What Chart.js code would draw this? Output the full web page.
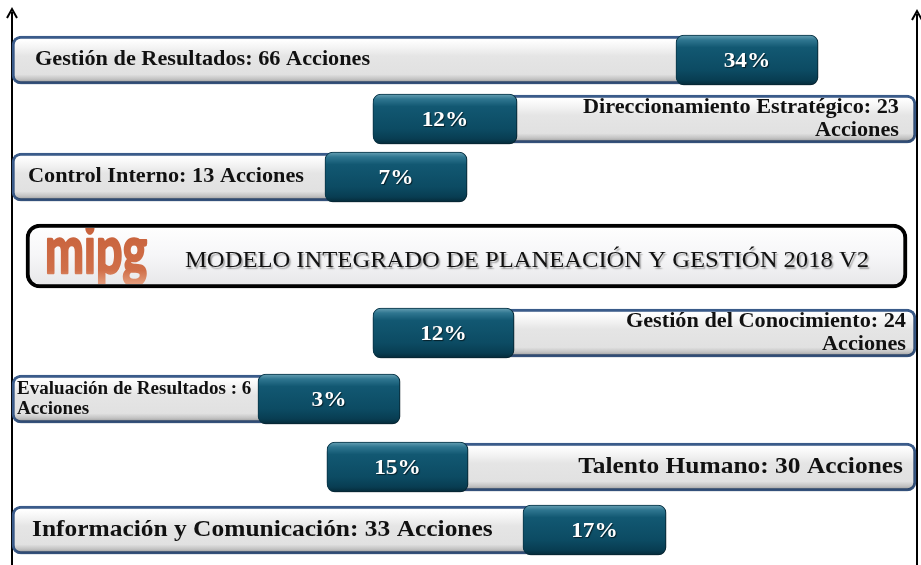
<!DOCTYPE html>
<html lang="es">
<head>
<meta charset="utf-8">
<title>MIPG 2018 V2</title>
<script src="https://cdn.jsdelivr.net/npm/chart.js@4.4.0/dist/chart.umd.min.js"></script>
<style>
  html, body { margin: 0; padding: 0; background: #fff; }
  canvas { display: block; }
</style>
</head>
<body>
<canvas id="grafico" width="921" height="565"></canvas>
<script>
// datos
const areas = [
  "Gestión de Resultados",
  "Direccionamiento Estratégico",
  "Control Interno",
  "Gestión del Conocimiento",
  "Evaluación de Resultados",
  "Talento Humano",
  "Información y Comunicación",
];
const acciones = [66, 23, 13, 24, 6, 30, 33];
const porcentajes = [34, 12, 7, 12, 3, 15, 17];
const titulo = "MODELO INTEGRADO DE PLANEACIÓN Y GESTIÓN 2018 V2";
const logo = "mipg";

// maquetación (unidades de los ejes = px del lienzo)
const filaY = [60, 119, 177, 333, 399, 467, 530];
const barraIni = [12, 373, 12, 373, 12, 327, 12];
const barraFin = [700, 916, 340, 916, 270, 916, 535];
const cajaIni = [676, 373, 325, 373, 258, 327, 523];
const cajaFin = [818, 517, 467, 514, 400, 468, 666];
const marco = { y: 256, ini: 26, fin: 907 };
const ejes = [12, 917];

// cómo se escribe cada etiqueta
const lado = ["left", "right", "left", "right", "left", "right", "left"];
const margen = [23, 17, 16, 10, 5, 13, 20];
const tamLetra = [21, 21, 21, 21, 18, 24, 24];
const dosLineas = [false, true, false, true, true, false, false];
const separador = [": ", ": ", ": ", ": ", " : ", ": ", ": "];
const estirar = 1.06; // la fuente original es más ancha

function degradado(context, paradas, alto, defecto) {
  const chart = context.chart;
  const raw = context.raw;
  if (!raw || !chart.scales.y) return defecto;
  const yc = chart.scales.y.getPixelForValue(raw.y);
  if (!Number.isFinite(yc)) return defecto;
  const g = chart.ctx.createLinearGradient(0, yc - alto / 2, 0, yc + alto / 2);
  paradas.forEach(([o, c]) => g.addColorStop(o, c));
  return g;
}

const paradasBarra = [
  [0, "#dfe3ea"], [0.08, "#ffffff"], [0.25, "#f3f3f3"], [0.42, "#e5e5e5"],
  [0.8, "#e1e1e1"], [0.9, "#c2c2c2"], [1, "#8a8a8a"],
];
const paradasCaja = [
  [0, "#6aa2b5"], [0.1, "#2f7690"], [0.25, "#125872"], [0.7, "#0c4b63"],
  [0.9, "#083d52"], [1, "#052a39"],
];
const paradasMarco = [[0, "#ffffff"], [0.5, "#f6f6f8"], [1, "#e6e6e8"]];

function textoAncho(c, txt, x, y, k) {
  c.save();
  c.translate(x, y);
  c.scale(k, 1);
  c.fillText(txt, 0, 0);
  c.restore();
}

// ejes con flecha
const ejesFlecha = {
  id: "ejesFlecha",
  beforeDatasetsDraw(chart) {
    const c = chart.ctx;
    const { x, y } = chart.scales;
    c.save();
    c.strokeStyle = "#000";
    c.lineWidth = 2;
    ejes.forEach((v, k) => {
      const px = x.getPixelForValue(v);
      const top = y.getPixelForValue(k === 0 ? 9 : 11);
      c.beginPath();
      c.moveTo(px, top + 3);
      c.lineTo(px, y.getPixelForValue(565));
      c.stroke();
      c.beginPath();
      c.moveTo(px - 5, top + 9);
      c.lineTo(px, top);
      c.lineTo(px + 5, top + 9);
      c.stroke();
    });
    c.restore();
  },
};

// sombra para barras y cajas
const sombra = {
  id: "sombra",
  beforeDatasetDraw(chart, args) {
    const c = chart.ctx;
    c.save();
    if (args.index === 2) {
      c.shadowColor = "rgba(0,0,0,0.45)";
      c.shadowBlur = 4;
      c.shadowOffsetX = 2;
      c.shadowOffsetY = 2;
    } else if (args.index === 1) {
      c.shadowColor = "rgba(0,0,0,0.25)";
      c.shadowBlur = 3;
      c.shadowOffsetX = 1;
      c.shadowOffsetY = 2;
    } else {
      c.shadowColor = "rgba(0,0,0,0.2)";
      c.shadowBlur = 3;
      c.shadowOffsetX = 1;
      c.shadowOffsetY = 2;
    }
  },
  afterDatasetDraw(chart) {
    chart.ctx.restore();
  },
};

const textos = {
  id: "textos",
  afterDatasetsDraw(chart) {
    const c = chart.ctx;
    const barras = chart.getDatasetMeta(1).data;
    const cajas = chart.getDatasetMeta(2).data;
    const caja = chart.getDatasetMeta(0).data[0];

    // título y logo
    const izq = Math.min(caja.x, caja.base);
    const der = Math.max(caja.x, caja.base);
    const arriba = caja.y - caja.height / 2;
    const abajo = caja.y + caja.height / 2;
    c.save();
    c.beginPath();
    c.rect(izq + 4, arriba + 4, der - izq - 8, abajo - arriba - 8);
    c.clip();
    const gl = c.createLinearGradient(0, arriba + 5, 0, abajo);
    gl.addColorStop(0, "#c8623c");
    gl.addColorStop(0.7, "#d06f49");
    gl.addColorStop(1, "#e9aa8c");
    c.fillStyle = gl;
    c.strokeStyle = gl;
    c.lineWidth = 2.5;
    c.lineJoin = "round";
    c.font = "bold 66px Lato";
    c.textAlign = "left";
    c.textBaseline = "alphabetic";
    c.fillText(logo, izq + 19, caja.y + 17, 102);
    c.strokeText(logo, izq + 19, caja.y + 17, 102);
    c.restore();

    c.save();
    c.font = "24px 'Liberation Serif'";
    c.fillStyle = "#111";
    c.textAlign = "left";
    c.textBaseline = "middle";
    c.shadowColor = "rgba(0,0,0,0.35)";
    c.shadowOffsetX = 1.5;
    c.shadowOffsetY = 1.5;
    c.shadowBlur = 1.5;
    textoAncho(c, titulo, izq + 159, caja.y + 5, 1.025);
    c.restore();

    // porcentajes
    c.save();
    c.fillStyle = "#fff";
    c.textAlign = "center";
    c.textBaseline = "middle";
    c.shadowColor = "rgba(0,0,0,0.6)";
    c.shadowOffsetX = 1;
    c.shadowOffsetY = 1;
    c.shadowBlur = 1;
    c.font = "bold 22px 'Liberation Serif'";
    cajas.forEach((el, i) => {
      textoAncho(c, porcentajes[i] + "%", (el.x + el.base) / 2, el.y + 1, estirar);
    });
    c.restore();

    // etiquetas
    c.save();
    c.fillStyle = "#111";
    c.textBaseline = "middle";
    barras.forEach((el, i) => {
      const texto = areas[i] + separador[i] + acciones[i];
      const lineas = dosLineas[i] ? [texto, "Acciones"] : [texto + " Acciones"];
      const t = tamLetra[i];
      c.font = "bold " + t + "px 'Liberation Serif'";
      c.textAlign = lado[i];
      const px = lado[i] === "left" ? Math.min(el.x, el.base) + margen[i] : Math.max(el.x, el.base) - margen[i];
      const paso = t * 1.1;
      const y0 = el.y - (paso * (lineas.length - 1)) / 2;
      lineas.forEach((l, k) => textoAncho(c, l, px, y0 + k * paso, estirar));
    });
    c.restore();
  },
};

new Chart(document.getElementById("grafico"), {
  type: "bar",
  data: {
    datasets: [
      {
        label: "marco",
        data: [{ x: [marco.ini, marco.fin], y: marco.y }],
        barThickness: 64,
        backgroundColor: (ctx) => degradado(ctx, paradasMarco, 64, "#f6f6f8"),
        borderColor: "#000",
        borderWidth: 4,
        borderRadius: 14,
        borderSkipped: false,
        grouped: false,
        order: 3,
      },
      {
        label: "acciones",
        data: areas.map((a, i) => ({ x: [barraIni[i], barraFin[i]], y: filaY[i] })),
        barThickness: 48,
        backgroundColor: (ctx) => degradado(ctx, paradasBarra, 48, "#e4e4e4"),
        borderColor: "#3a5b8a",
        borderWidth: 3,
        borderRadius: 9,
        borderSkipped: false,
        grouped: false,
        order: 2,
      },
      {
        label: "porcentaje",
        data: porcentajes.map((p, i) => ({ x: [cajaIni[i], cajaFin[i]], y: filaY[i] })),
        barThickness: 50,
        backgroundColor: (ctx) => degradado(ctx, paradasCaja, 50, "#0c4b63"),
        borderColor: "#0a3a4e",
        borderWidth: 1,
        borderRadius: 8,
        borderSkipped: false,
        grouped: false,
        order: 1,
      },
    ],
  },
  options: {
    responsive: false,
    animation: false,
    events: [],
    indexAxis: "y",
    layout: { padding: 0 },
    scales: {
      x: { type: "linear", min: 0, max: 921, display: false },
      y: { type: "linear", min: 0, max: 565, reverse: true, offset: false, display: false },
    },
    plugins: {
      legend: { display: false },
      tooltip: { enabled: false },
    },
  },
  plugins: [ejesFlecha, sombra, textos],
});
</script>
</body>
</html>
